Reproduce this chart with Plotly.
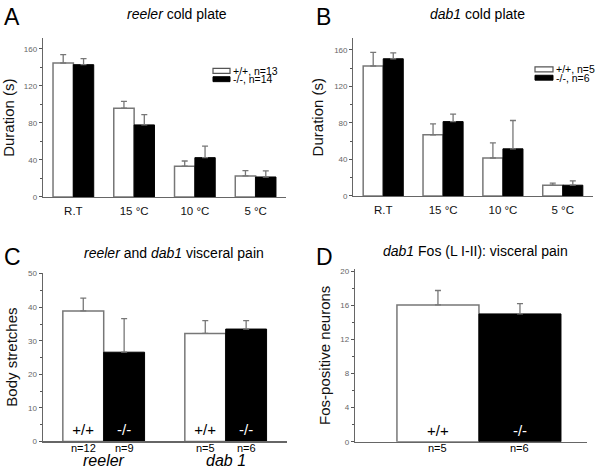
import plotly.graph_objects as go

# ---------------- data ----------------
temps = ["R.T", "15 °C", "10 °C", "5 °C"]

reeler_wt = [144.8, 95.9, 33.3, 22.7]
reeler_wt_err = [9.0, 7.5, 5.6, 5.7]
reeler_ko = [143.0, 77.9, 42.5, 21.6]
reeler_ko_err = [6.5, 11.0, 12.4, 6.7]
reeler_n = [13, 14]

dab1_wt = [142.3, 67.0, 41.6, 11.8]
dab1_wt_err = [15.0, 12.0, 16.5, 2.2]
dab1_ko = [150.2, 81.4, 51.6, 11.8]
dab1_ko_err = [6.5, 8.2, 31.0, 4.7]
dab1_n = [5, 6]

visc_groups = ["reeler", "dab 1"]
visc_wt = [38.9, 32.2]
visc_wt_err = [3.8, 3.8]
visc_ko = [26.6, 33.5]
visc_ko_err = [10.0, 2.5]
visc_n_wt = [12, 5]
visc_n_ko = [9, 6]

fos_group = ["dab1"]
fos_wt = [16.05]
fos_wt_err = [1.7]
fos_ko = [15.0]
fos_ko_err = [1.2]
fos_n = [5, 6]

genotypes = ["+/+", "-/-"]

# ---------------- styles ----------------
FONT = "Liberation Sans, Arial, sans-serif"
AX_COL = "#666666"
OUT_COL = "#777777"
TICK_COL = "#555555"

W, H = 600, 474


def px_x(p):
    return p / W


def px_y(p):
    return 1 - p / H


fig = go.Figure()


def add_pair(xa, ya, cats, wt, wt_err, ko, ko_err, width, show_text=False):
    ek = dict(type="data", symmetric=False, thickness=1.3, width=3, color="#777777")
    fig.add_trace(go.Bar(
        x=cats, y=wt, xaxis=xa, yaxis=ya, width=width, offset=-width,
        marker=dict(color="white", line=dict(color=OUT_COL, width=1.5)),
        error_y=dict(array=wt_err, arrayminus=[0] * len(wt), **ek),
        text=[genotypes[0]] * len(wt) if show_text else None,
        textposition="inside" if show_text else None,
        insidetextanchor="start", textangle=0,
        insidetextfont=dict(color="black", size=15, family=FONT),
        showlegend=False, hoverinfo="skip"))
    fig.add_trace(go.Bar(
        x=cats, y=ko, xaxis=xa, yaxis=ya, width=width, offset=0,
        marker=dict(color="black", line=dict(color="black", width=1)),
        error_y=dict(array=ko_err, arrayminus=[0] * len(ko), **ek),
        text=[genotypes[1]] * len(ko) if show_text else None,
        textposition="inside" if show_text else None,
        insidetextanchor="start", textangle=0,
        insidetextfont=dict(color="white", size=15, family=FONT),
        showlegend=False, hoverinfo="skip"))


add_pair("x", "y", temps, reeler_wt, reeler_wt_err, reeler_ko, reeler_ko_err, 0.335)
add_pair("x2", "y2", temps, dab1_wt, dab1_wt_err, dab1_ko, dab1_ko_err, 0.335)
add_pair("x3", "y3", visc_groups, visc_wt, visc_wt_err, visc_ko, visc_ko_err, 0.335, True)
add_pair("x4", "y4", fos_group, fos_wt, fos_wt_err, fos_ko, fos_ko_err, 0.354, True)


def xaxis(domain, rng, anchor, showticklabels=True):
    return dict(domain=domain, range=rng, anchor=anchor, type="category",
                showline=True, linecolor=AX_COL, linewidth=1.2, ticks="",
                showgrid=False, zeroline=False, showticklabels=showticklabels,
                ticklabelstandoff=3,
                tickfont=dict(family=FONT, size=11.5, color="#111111"),
                fixedrange=True)


def yaxis(domain, rng, anchor, dtick, title, tickfont_size=8):
    return dict(domain=domain, range=rng, anchor=anchor,
                showline=True, linecolor=AX_COL, linewidth=1.2,
                ticks="outside", ticklen=3, tickcolor=TICK_COL, tickwidth=1,
                dtick=dtick, tick0=0,
                minor=dict(ticks="outside", ticklen=2, tickcolor=TICK_COL, dtick=dtick / 2, showgrid=False),
                showgrid=False, zeroline=False,
                tickfont=dict(family=FONT, size=tickfont_size, color="#666666"),
                title=dict(text=title, font=dict(family=FONT, size=15, color="#111111"), standoff=6),
                fixedrange=True)


fig.update_layout(
    width=W, height=H, margin=dict(l=0, r=0, t=0, b=0),
    paper_bgcolor="white", plot_bgcolor="white",
    barmode="overlay",
    font=dict(family=FONT),
    xaxis=xaxis([px_x(43), px_x(286)], [-0.5, 3.5], "y"),
    yaxis=yaxis([px_y(197.3), px_y(36)], [0, 171.4], "x", 40, "Duration (s)"),
    xaxis2=xaxis([px_x(353.3), px_x(592.7)], [-0.5, 3.5], "y2"),
    yaxis2=yaxis([px_y(196.3), px_y(36)], [0, 172.5], "x2", 40, "Duration (s)"),
    xaxis3=xaxis([px_x(42.7), px_x(286.7)], [-0.5, 1.5], "y3", False),
    yaxis3=yaxis([px_y(446), px_y(274.3)], [0, 50.3], "x3", 10, "Body stretches"),
    xaxis4=xaxis([px_x(355), px_x(586.7)], [-0.535, 0.465], "y4", False),
    yaxis4=yaxis([px_y(446.3), px_y(270.3)], [0, 20.3], "x4", 4, "Fos-positive neurons"),
)

ann = []
# panel letters
for letter, x, y in [("A", 2, 14), ("B", 314, 14), ("C", 2, 258), ("D", 314, 258)]:
    ann.append(dict(text=letter, x=px_x(x), y=px_y(y), xref="paper", yref="paper",
                    xanchor="left", yanchor="middle", showarrow=False,
                    font=dict(family=FONT, size=23, color="black")))
# titles
titles = [("<i>reeler</i> cold plate", 177, 11),
          ("<i>dab1</i> cold plate", 477, 11),
          ("<i>reeler</i> and <i>dab1</i> visceral pain", 174, 254),
          ("<i>dab1</i> Fos (L I-II): visceral pain", 475, 252)]
for t, x, y in titles:
    ann.append(dict(text=t, x=px_x(x), y=px_y(y), xref="paper", yref="paper",
                    xanchor="center", yanchor="middle", showarrow=False,
                    font=dict(family=FONT, size=14, color="black")))

# legends (A and B) drawn as swatches + text
shapes = []
for (x0, x1, y0, n) in [(213, 230, 66.5, reeler_n), (535, 553, 65, dab1_n)]:
    shapes.append(dict(type="rect", xref="paper", yref="paper",
                       x0=px_x(x0), x1=px_x(x1), y0=px_y(y0), y1=px_y(y0 + 5),
                       line=dict(color="#555555", width=1.2), fillcolor="white"))
    shapes.append(dict(type="rect", xref="paper", yref="paper",
                       x0=px_x(x0), x1=px_x(x1), y0=px_y(y0 + 8.5), y1=px_y(y0 + 13.5),
                       line=dict(color="black", width=1), fillcolor="black"))
    for i, g in enumerate(genotypes):
        ann.append(dict(text=f"{g}, n={n[i]}", x=px_x(x1 + 1), y=px_y(y0 + 2.5 + i * 8.7),
                        xref="paper", yref="paper", xanchor="left", yanchor="middle",
                        showarrow=False, font=dict(family=FONT, size=10.5, color="black")))

# n labels below C and D
for i, g in enumerate(visc_groups):
    ann.append(dict(text=f"n={visc_n_wt[i]}", x=i - 0.1675, y=px_y(452.5), xref="x3", yref="paper",
                    xanchor="center", yanchor="middle", showarrow=False,
                    font=dict(family=FONT, size=11, color="black")))
    ann.append(dict(text=f"n={visc_n_ko[i]}", x=i + 0.1675, y=px_y(452.5), xref="x3", yref="paper",
                    xanchor="center", yanchor="middle", showarrow=False,
                    font=dict(family=FONT, size=11, color="black")))
    ann.append(dict(text=f"<i>{g}</i>", x=i, y=px_y(465), xref="x3", yref="paper",
                    xanchor="center", yanchor="middle", showarrow=False,
                    font=dict(family=FONT, size=16, color="black")))
for i, n in enumerate(fos_n):
    ann.append(dict(text=f"n={n}", x=(-0.177 if i == 0 else 0.177), y=px_y(452.5), xref="x4", yref="paper",
                    xanchor="center", yanchor="middle", showarrow=False,
                    font=dict(family=FONT, size=11, color="black")))

fig.update_layout(annotations=ann, shapes=shapes)
fig.update_traces(textfont=dict(size=15), cliponaxis=False)

fig.write_html("out.html",
               config={"displayModeBar": False, "staticPlot": True},
               post_script="document.body.style.margin='0';document.body.style.overflow='hidden';")
